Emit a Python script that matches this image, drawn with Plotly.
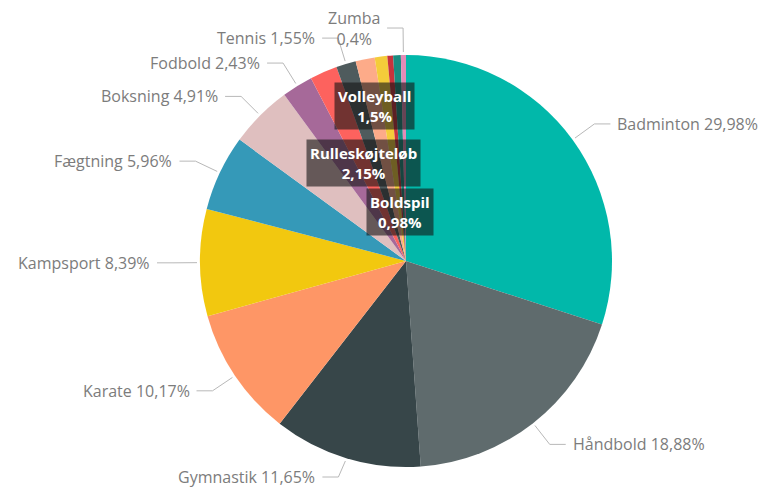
import math
import plotly.graph_objects as go

# ---- data ----
sports = ["Badminton", "Håndbold", "Gymnastik", "Karate", "Kampsport", "Fægtning",
          "Boksning", "Fodbold", "Rulleskøjteløb", "Tennis", "Volleyball", "Boldspil",
          "Øvrige A", "Øvrige B", "Zumba"]
shares = [29.98, 18.88, 11.65, 10.17, 8.39, 5.96,
          4.91, 2.43, 2.15, 1.55, 1.5, 0.98,
          0.45, 0.6, 0.4]
colors = ["#01B8AA", "#5F6B6D", "#374649", "#FE9666", "#F2C80F", "#3599B8",
          "#DFBFBF", "#A66999", "#FD625E", "#4F5B5D", "#FDAB89", "#F4CC3A",
          "#C8333C", "#198C80", "#E38CB7"]
outside_labels = ["Badminton", "Håndbold", "Gymnastik", "Karate", "Kampsport",
                  "Fægtning", "Boksning", "Fodbold", "Tennis", "Zumba"]
inside_labels = {"Volleyball": 0.77, "Rulleskøjteløb": 0.52, "Boldspil": 0.24}

# ---- geometry (page pixels; the page body has an 8px margin) ----
PW, PH = 767, 495
OFF = 8
W, H = PW - 2 * OFF, PH - 2 * OFF
cx, cy, R = 406, 261, 206
FONT = "Open Sans"


def fmt(v):
    return ("%g" % v).replace(".", ",") + "%"


def px(x):
    return (x - OFF) / W


def py(y):
    return 1 - (y - OFF) / H


fig = go.Figure(go.Pie(
    labels=sports, values=shares, sort=False, direction="clockwise", rotation=0,
    marker=dict(colors=colors, line=dict(width=0)),
    textinfo="none", hoverinfo="label+percent",
    domain=dict(x=[px(cx - R), px(cx + R)], y=[py(cy + R), py(cy - R)]),
    showlegend=False,
))

total = sum(shares)
cum = 0.0
shapes = []
annotations = []
for name, v in zip(sports, shares):
    mid = (cum + v / 2) / total
    cum += v
    th = 2 * math.pi * mid
    dx, dy = math.sin(th), -math.cos(th)
    if name in outside_labels:
        sx, sy = cx + (R + 3) * dx, cy + (R + 3) * dy
        ex, ey = cx + (R + 27) * dx, cy + (R + 27) * dy
        ey = min(ey, PH - OFF - 10)
        side = 1 if dx > 0 else -1
        hx = ex + side * 16
        shapes.append(dict(type="path", xref="paper", yref="paper",
                           path=f"M {px(sx)},{py(sy)} L {px(ex)},{py(ey)} L {px(hx)},{py(ey)}",
                           line=dict(color="#b8b8b8", width=1)))
        if name == "Zumba":
            txt = f"{name}<br>{fmt(v)}"
        else:
            txt = f"{name} {fmt(v)}"
        annotations.append(dict(x=px(hx + side * 5), y=py(ey), xref="paper", yref="paper",
                                text=txt, showarrow=False, align="center",
                                xanchor="left" if side > 0 else "right", yanchor="middle",
                                font=dict(family=FONT, size=16, color="#7c7c7c")))
    if name in inside_labels:
        rr = inside_labels[name] * R
        tx, ty = cx + rr * dx, cy + rr * dy
        annotations.append(dict(x=px(tx), y=py(ty), xref="paper", yref="paper",
                                text=f"<b>{name}<br>{fmt(v)}</b>", showarrow=False,
                                align="center", xanchor="center", yanchor="middle",
                                bgcolor="rgba(20,20,20,0.6)", borderpad=3,
                                font=dict(family=FONT, size=15, color="white")))

fig.update_layout(width=W, height=H, margin=dict(l=0, r=0, t=0, b=0),
                  paper_bgcolor="white", plot_bgcolor="white",
                  shapes=shapes, annotations=annotations)
fig.write_html("out.html")
